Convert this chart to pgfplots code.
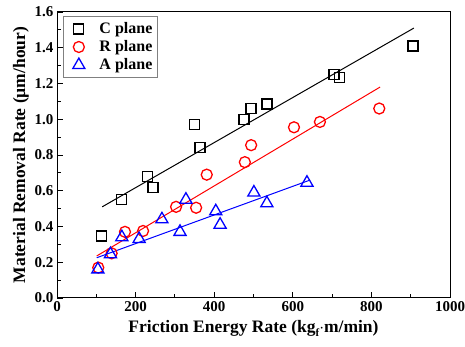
\documentclass[border=0pt]{standalone}
\usepackage{fontspec}
\setmainfont{Liberation Serif}
\usepackage{pgfplots}
\pgfplotsset{compat=1.18}
\pgfplotsset{mylegimg/.style={legend image code/.code={\path (0pt,0pt) (30pt,0pt); \draw plot[only marks] coordinates {(12pt,0pt)};}}}
\begin{document}
\begin{tikzpicture}
\begin{axis}[
  scale only axis, width=393pt, height=286pt,
  xmin=0, xmax=1000, ymin=0, ymax=1.6,
  xtick={0,200,...,1000}, ytick={0,0.2,...,1.6},
  minor x tick num=1, minor y tick num=1,
  tick pos=left, tick align=inside,
  major tick length=6pt, minor tick length=3.5pt,
  every tick/.style={black, line width=0.9pt},
  axis line style={line width=1pt},
  /pgf/number format/assume math mode=true,
  /pgf/number format/1000 sep={},
  xticklabel style={font=\fontsize{15}{15}\selectfont\bfseries, /pgf/number format/fixed},
  yticklabel style={font=\fontsize{15}{15}\selectfont\bfseries, /pgf/number format/fixed, /pgf/number format/fixed zerofill, /pgf/number format/precision=1},
  xlabel={\textbf{Friction Energy Rate (kg\raisebox{-0.45ex}{\fontsize{11}{11}\selectfont f}$\cdot$m/min)}},
  ylabel={\textbf{Material Removal Rate (\textmu m/hour)}},
  label style={font=\fontsize{17.5}{17.5}\selectfont\bfseries},
  xlabel style={yshift=-2pt},
  ylabel style={yshift=-1pt},
  legend style={at={(0.015,0.985)}, anchor=north west, draw=gray, line width=0.6pt,
    font=\fontsize{16}{16}\selectfont\bfseries, row sep=1.5pt, inner xsep=3pt, inner ysep=4pt},
  legend cell align=left,
]
\addplot[only marks, mark=square, mark size=5pt, black, line width=1.3pt, mylegimg] coordinates {
(114,0.347) (165,0.55) (231,0.68) (244,0.62) (349,0.97) (364,0.84)
(476,1.00) (494,1.06) (534,1.085) (705,1.25) (718,1.235) (906,1.41)};
\addlegendentry{C plane}
\addplot[only marks, mark=o, mark size=5.5pt, red, line width=1.3pt, mylegimg] coordinates {
(105,0.17) (139,0.25) (173,0.37) (219,0.375) (303,0.51) (354,0.505)
(381,0.69) (478,0.76) (494,0.855) (603,0.955) (669,0.985) (820,1.06)};
\addlegendentry{R plane}
\addplot[only marks, mark=triangle, mark size=7pt, blue, line width=1.3pt, mylegimg] coordinates {
(104,0.16) (136,0.245) (165,0.34) (209,0.33) (267,0.44) (313,0.37)
(328,0.55) (404,0.485) (415,0.41) (501,0.59) (534,0.53) (636,0.645)};
\addlegendentry{A plane}
\addplot[black, line width=1pt, forget plot] coordinates {(115,0.51) (908,1.51)};
\addplot[red, line width=1pt, forget plot] coordinates {(101,0.235) (822,1.18)};
\addplot[blue, line width=1pt, forget plot] coordinates {(101,0.225) (644,0.66)};
\end{axis}
\pgfresetboundingbox
\path[use as bounding box] ([xshift=-57pt,yshift=-49pt]current axis.south west) rectangle ([xshift=15pt,yshift=12pt]current axis.north east);
\end{tikzpicture}
\end{document}
